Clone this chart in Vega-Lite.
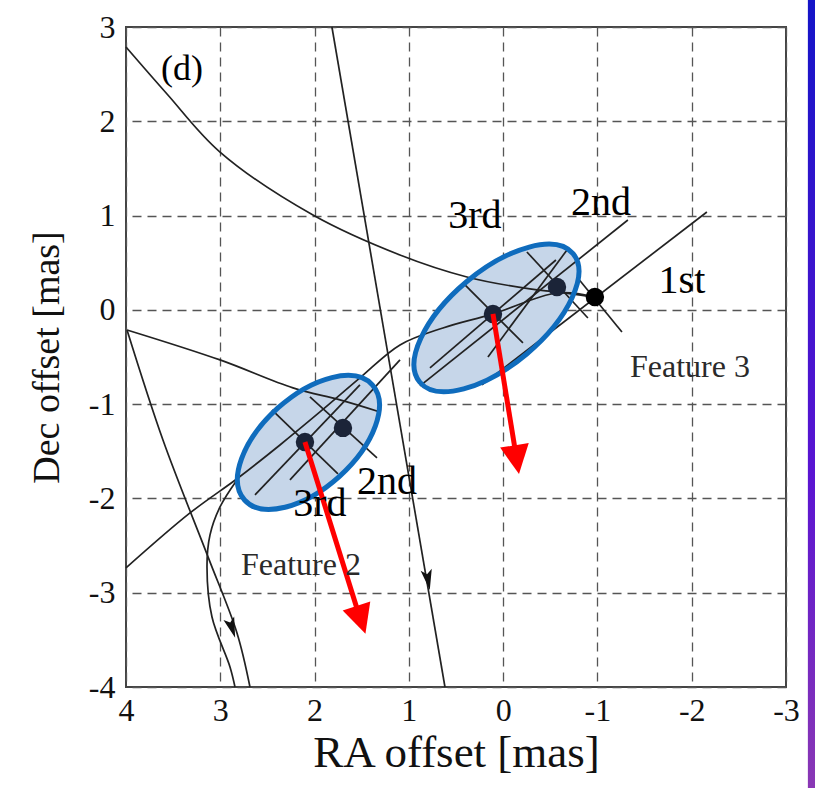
{
  "$schema": "https://vega.github.io/schema/vega-lite/v6.json",
  "width": 660,
  "height": 660,
  "autosize": {"type": "none"},
  "padding": {"left": 126, "top": 27, "right": 29, "bottom": 101},
  "background": "white",
  "config": {
    "view": {"stroke": "#444", "strokeWidth": 2},
    "font": "Liberation Serif",
    "axis": {
      "grid": true, "gridColor": "#555", "gridDash": [9, 6], "gridWidth": 1.3,
      "domain": false, "ticks": false,
      "labelFont": "Liberation Serif", "labelFontSize": 32, "labelColor": "#111",
      "labelFlush": false, "labelOverlap": false, "labelExpr": "'' + datum.value",
      "titleFont": "Liberation Serif", "titleFontWeight": "normal", "titleColor": "#111"
    }
  },
  "datasets": {
    "sidebar": [
      {"x": -3.232, "x2": -3.31, "y": 3.3, "y2": -5.1}
    ],
    "curves": [
      {"id": "A", "i": 0, "x": 4.0, "y": 2.788},
      {"id": "A", "i": 1, "x": 3.565, "y": 2.29},
      {"id": "A", "i": 2, "x": 3.003, "y": 1.674},
      {"id": "A", "i": 3, "x": 2.017, "y": 1.006},
      {"id": "A", "i": 4, "x": 1.094, "y": 0.582},
      {"id": "A", "i": 5, "x": 0.384, "y": 0.349},
      {"id": "A", "i": 6, "x": -0.284, "y": 0.222},
      {"id": "A", "i": 7, "x": -0.571, "y": 0.19},
      {"id": "A", "i": 8, "x": -0.942, "y": 0.137},
      {"id": "B", "i": 0, "x": 3.989, "y": -0.213},
      {"id": "B", "i": 1, "x": 3.003, "y": -0.531},
      {"id": "B", "i": 2, "x": 2.229, "y": -0.828},
      {"id": "B", "i": 3, "x": 1.731, "y": -0.955},
      {"id": "B", "i": 4, "x": 1.306, "y": -1.083},
      {"id": "C", "i": 0, "x": 4.0, "y": -2.737},
      {"id": "C", "i": 1, "x": 3.321, "y": -2.154},
      {"id": "C", "i": 2, "x": 2.812, "y": -1.783},
      {"id": "C", "i": 3, "x": 2.367, "y": -1.433},
      {"id": "C", "i": 4, "x": 1.943, "y": -1.083},
      {"id": "C", "i": 5, "x": 1.519, "y": -0.722},
      {"id": "C", "i": 6, "x": 1.094, "y": -0.372},
      {"id": "C", "i": 7, "x": 0.638, "y": -0.192},
      {"id": "C", "i": 8, "x": 0.108, "y": -0.043},
      {"id": "C", "i": 9, "x": -0.571, "y": 0.179},
      {"id": "C", "i": 10, "x": -0.973, "y": 0.137},
      {"id": "D", "i": 0, "x": 1.816, "y": 3.0},
      {"id": "D", "i": 1, "x": 0.617, "y": -4.0},
      {"id": "E1", "i": 0, "x": 3.989, "y": -0.213},
      {"id": "E1", "i": 1, "x": 3.608, "y": -1.38},
      {"id": "E1", "i": 2, "x": 3.13, "y": -2.62},
      {"id": "E1", "i": 3, "x": 2.823, "y": -3.426},
      {"id": "E1", "i": 4, "x": 2.685, "y": -4.0},
      {"id": "E2", "i": 0, "x": 2.823, "y": -1.804},
      {"id": "E2", "i": 1, "x": 3.003, "y": -2.09},
      {"id": "E2", "i": 2, "x": 3.109, "y": -2.387},
      {"id": "E2", "i": 3, "x": 3.141, "y": -2.726},
      {"id": "E2", "i": 4, "x": 3.088, "y": -3.257},
      {"id": "E2", "i": 5, "x": 2.897, "y": -3.787},
      {"id": "E2", "i": 6, "x": 2.844, "y": -4.0}
    ],
    "segments": [
      {"id": "S1", "x": 0.225, "y": -0.796, "x2": -2.161, "y2": 1.038},
      {"id": "S2", "x": -0.783, "y": 0.349, "x2": -1.26, "y2": -0.234},
      {"id": "S3", "x": 0.882, "y": -0.807, "x2": -1.323, "y2": 0.953},
      {"id": "S4", "x": -0.252, "y": 0.614, "x2": -0.899, "y2": -0.086},
      {"id": "S5", "x": 0.776, "y": -0.616, "x2": -0.56, "y2": 0.529},
      {"id": "S6", "x": 0.405, "y": 0.264, "x2": -0.21, "y2": -0.351},
      {"id": "S7", "x": 0.161, "y": -0.499, "x2": -0.677, "y2": 0.635},
      {"id": "T1", "x": 2.452, "y": -1.061, "x2": 1.752, "y2": -1.74},
      {"id": "T2", "x": 2.049, "y": -0.924, "x2": 1.338, "y2": -1.571},
      {"id": "T3", "x": 2.632, "y": -1.963, "x2": 1.519, "y2": -0.796},
      {"id": "T4", "x": 2.261, "y": -1.804, "x2": 1.094, "y2": -0.531}
    ],
    "ellipses": [
      {"feature": "Feature 3", "x": 0.071, "y": -0.086},
      {"feature": "Feature 2", "x": 2.065, "y": -1.406}
    ],
    "dots": [
      {"feature": "Feature 3", "epoch": "1st", "x": -0.973, "y": 0.137},
      {"feature": "Feature 3", "epoch": "2nd", "x": -0.571, "y": 0.243},
      {"feature": "Feature 3", "epoch": "3rd", "x": 0.108, "y": -0.043},
      {"feature": "Feature 2", "epoch": "2nd", "x": 1.699, "y": -1.252},
      {"feature": "Feature 2", "epoch": "3rd", "x": 2.102, "y": -1.401}
    ],
    "motions": [
      {"feature": "Feature 3", "x": 0.108, "y": -0.043, "x2": -0.13, "y2": -1.5, "hx": -0.144, "hy": -1.589},
      {"feature": "Feature 2", "x": 2.102, "y": -1.401, "x2": 1.54, "y2": -3.2, "hx": 1.508, "hy": -3.288}
    ],
    "trackheads": [
      {"id": "D", "x": 0.797, "y": -2.864},
      {"id": "E1", "x": 2.876, "y": -3.373}
    ],
    "labels": [
      {"text": "(d)", "kind": "panel", "x": 3.406, "y": 2.555},
      {"text": "3rd", "kind": "epoch", "x": 0.299, "y": 0.996},
      {"text": "2nd", "kind": "epoch", "x": -1.037, "y": 1.134},
      {"text": "1st", "kind": "epoch", "x": -1.896, "y": 0.306},
      {"text": "3rd", "kind": "epoch", "x": 1.943, "y": -2.058},
      {"text": "2nd", "kind": "epoch", "x": 1.232, "y": -1.825},
      {"text": "Feature 3", "kind": "feature", "x": -1.981, "y": -0.606},
      {"text": "Feature 2", "kind": "feature", "x": 2.144, "y": -2.705}
    ]
  },
  "encoding": {
    "x": {"field": "x", "type": "quantitative",
      "scale": {"domain": [-3, 4], "reverse": true, "nice": false, "zero": false},
      "axis": {"values": [-3, -2, -1, 0, 1, 2, 3, 4], "title": "RA offset [mas]", "labelPadding": 8, "titlePadding": 4, "titleFontSize": 45}},
    "y": {"field": "y", "type": "quantitative",
      "scale": {"domain": [-4, 3], "nice": false, "zero": false},
      "axis": {"values": [-4, -3, -2, -1, 0, 1, 2, 3], "title": "Dec offset [mas]", "labelPadding": 11, "titlePadding": 22, "titleFontSize": 38}}
  },
  "layer": [
    {
      "data": {"name": "sidebar"},
      "mark": {"type": "rect", "clip": false,
        "fill": {"gradient": "linear", "x1": 0, "y1": 0, "x2": 0, "y2": 1,
          "stops": [{"offset": 0, "color": "#1414c8"}, {"offset": 0.6, "color": "#5a14d2"}, {"offset": 1, "color": "#8a38b4"}]}},
      "encoding": {
        "x2": {"field": "x2"},
        "y2": {"field": "y2"}
      }
    },
    {
      "data": {"name": "ellipses"},
      "transform": [{"filter": "datum.feature === 'Feature 3'"}],
      "mark": {"type": "point", "filled": true, "fill": "#c6d6e9", "fillOpacity": 1, "strokeWidth": 0, "size": 40000, "angle": 320,
        "shape": "M1,0C1,0.2596,0.5523,0.47,0,0.47C-0.5523,0.47,-1,0.2596,-1,0C-1,-0.2596,-0.5523,-0.47,0,-0.47C0.5523,-0.47,1,-0.2596,1,0Z"}
    },
    {
      "data": {"name": "ellipses"},
      "transform": [{"filter": "datum.feature === 'Feature 2'"}],
      "mark": {"type": "point", "filled": true, "fill": "#c6d6e9", "fillOpacity": 1, "strokeWidth": 0, "size": 29584, "angle": 318,
        "shape": "M1,0C1,0.2955,0.5523,0.535,0,0.535C-0.5523,0.535,-1,0.2955,-1,0C-1,-0.2955,-0.5523,-0.535,0,-0.535C0.5523,-0.535,1,-0.2955,1,0Z"}
    },
    {
      "data": {"name": "curves"},
      "mark": {"type": "line", "color": "#222", "strokeWidth": 1.7, "interpolate": "catmull-rom"},
      "encoding": {"detail": {"field": "id"}, "order": {"field": "i", "type": "quantitative"}}
    },
    {
      "data": {"name": "segments"},
      "mark": {"type": "rule", "color": "#222", "strokeWidth": 1.7},
      "encoding": {"x2": {"field": "x2"}, "y2": {"field": "y2"}}
    },
    {
      "data": {"name": "trackheads"},
      "transform": [{"filter": "datum.id === 'D'"}],
      "mark": {"type": "point", "filled": true, "fill": "#111", "strokeWidth": 0, "opacity": 1, "size": 420, "angle": 350,
        "shape": "M-0.55,-1L0,-0.55L0.55,-1L0,1Z"}
    },
    {
      "data": {"name": "trackheads"},
      "transform": [{"filter": "datum.id === 'E1'"}],
      "mark": {"type": "point", "filled": true, "fill": "#111", "strokeWidth": 0, "opacity": 1, "size": 420, "angle": 342,
        "shape": "M-0.55,-1L0,-0.55L0.55,-1L0,1Z"}
    },
    {
      "data": {"name": "dots"},
      "mark": {"type": "circle", "opacity": 1, "size": 340},
      "encoding": {"color": {"field": "epoch", "type": "nominal", "legend": null,
        "scale": {"domain": ["1st", "2nd", "3rd"], "range": ["#000000", "#1b2438", "#1b2438"]}}}
    },
    {
      "data": {"name": "ellipses"},
      "transform": [{"filter": "datum.feature === 'Feature 3'"}],
      "mark": {"type": "point", "filled": false, "stroke": "#0f6cbd", "strokeWidth": 5, "opacity": 1, "size": 40000, "angle": 320,
        "shape": "M1,0C1,0.2596,0.5523,0.47,0,0.47C-0.5523,0.47,-1,0.2596,-1,0C-1,-0.2596,-0.5523,-0.47,0,-0.47C0.5523,-0.47,1,-0.2596,1,0Z"}
    },
    {
      "data": {"name": "ellipses"},
      "transform": [{"filter": "datum.feature === 'Feature 2'"}],
      "mark": {"type": "point", "filled": false, "stroke": "#0f6cbd", "strokeWidth": 5, "opacity": 1, "size": 29584, "angle": 318,
        "shape": "M1,0C1,0.2955,0.5523,0.535,0,0.535C-0.5523,0.535,-1,0.2955,-1,0C-1,-0.2955,-0.5523,-0.535,0,-0.535C0.5523,-0.535,1,-0.2955,1,0Z"}
    },
    {
      "data": {"name": "motions"},
      "mark": {"type": "rule", "color": "#ff0000", "strokeWidth": 5, "strokeCap": "butt"},
      "encoding": {"x2": {"field": "x2"}, "y2": {"field": "y2"}}
    },
    {
      "data": {"name": "motions"},
      "transform": [{"filter": "datum.feature === 'Feature 3'"}],
      "mark": {"type": "point", "filled": true, "fill": "#ff0000", "strokeWidth": 0, "opacity": 1, "size": 841, "angle": 351,
        "shape": "M-1,-1L1,-1L0,1Z"},
      "encoding": {"x": {"field": "hx", "type": "quantitative"}, "y": {"field": "hy", "type": "quantitative"}}
    },
    {
      "data": {"name": "motions"},
      "transform": [{"filter": "datum.feature === 'Feature 2'"}],
      "mark": {"type": "point", "filled": true, "fill": "#ff0000", "strokeWidth": 0, "opacity": 1, "size": 841, "angle": 342,
        "shape": "M-1,-1L1,-1L0,1Z"},
      "encoding": {"x": {"field": "hx", "type": "quantitative"}, "y": {"field": "hy", "type": "quantitative"}}
    },
    {
      "data": {"name": "labels"},
      "transform": [{"filter": "datum.kind === 'epoch'"}],
      "mark": {"type": "text", "font": "Liberation Serif", "fontSize": 40, "color": "#000", "baseline": "middle", "align": "center"},
      "encoding": {"text": {"field": "text"}}
    },
    {
      "data": {"name": "labels"},
      "transform": [{"filter": "datum.kind === 'panel'"}],
      "mark": {"type": "text", "font": "Liberation Serif", "fontSize": 36, "color": "#000", "baseline": "middle", "align": "center"},
      "encoding": {"text": {"field": "text"}}
    },
    {
      "data": {"name": "labels"},
      "transform": [{"filter": "datum.kind === 'feature'"}],
      "mark": {"type": "text", "font": "Liberation Serif", "fontSize": 32, "color": "#2a2a2a", "baseline": "middle", "align": "center"},
      "encoding": {"text": {"field": "text"}}
    }
  ]
}
